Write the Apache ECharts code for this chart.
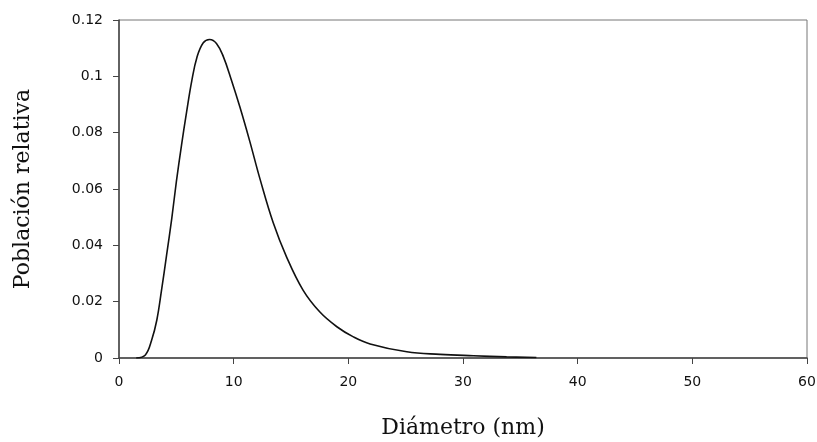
<!DOCTYPE html>
<html>
<head>
<meta charset="utf-8">
<script src="https://cdn.jsdelivr.net/npm/echarts@6/dist/echarts.min.js"></script>
<style>
  html, body { margin: 0; padding: 0; background: #fff; }
  #chart { width: 817px; height: 442px; }
</style>
</head>
<body>
<div id="chart"></div>
<script>
// Particle size distribution: diameter (nm) vs relative population
const diameters = [1.5, 2.3, 2.85, 3.3, 3.7, 4.15, 4.6, 5.0, 5.45, 5.9, 6.35, 6.8, 7.35, 7.9, 8.5, 9.1, 9.8, 10.55, 11.4, 12.3, 13.45, 14.6, 16.05, 17.5, 19.0, 20.4, 21.9, 25.1, 28.0, 30.9, 33.8, 36.4];
const population = [0, 0.0011, 0.0064, 0.0135, 0.0238, 0.0365, 0.0495, 0.0625, 0.0755, 0.0875, 0.0985, 0.1068, 0.1119, 0.1131, 0.1117, 0.1070, 0.0987, 0.0890, 0.0770, 0.0635, 0.0480, 0.0360, 0.0241, 0.0164, 0.0111, 0.0076, 0.0050, 0.0022, 0.0013, 0.0008, 0.0004, 0.0002];
const xTicks = [0, 10, 20, 30, 40, 50, 60];
const yTicks = [0, 0.02, 0.04, 0.06, 0.08, 0.1, 0.12];

const points = diameters.map((d, i) => [d, population[i]]);

const chart = echarts.init(document.getElementById('chart'), null, { renderer: 'canvas' });
const tickFont = { fontFamily: 'DejaVu Sans, sans-serif', fontSize: 14, color: '#111' };
const titleFont = { fontFamily: 'DejaVu Serif, serif', fontSize: 22, color: '#111' };

chart.setOption({
  animation: false,
  backgroundColor: '#fff',
  grid: {
    left: 119, right: 10, top: 20, bottom: 84,
    outerBoundsMode: 'none', containLabel: false,
    show: true, borderColor: '#777', borderWidth: 1
  },
  xAxis: {
    type: 'value',
    min: xTicks[0], max: xTicks[xTicks.length - 1], interval: 10,
    name: 'Diámetro (nm)', nameLocation: 'middle', nameGap: 59,
    nameTextStyle: titleFont,
    axisLine: { show: true, onZero: false, lineStyle: { color: '#444', width: 1.5 } },
    axisTick: { show: true, inside: false, length: 6, lineStyle: { color: '#444' } },
    axisLabel: Object.assign({ margin: 17, formatter: v => String(v) }, tickFont),
    splitLine: { show: false }
  },
  yAxis: {
    type: 'value',
    min: yTicks[0], max: yTicks[yTicks.length - 1], interval: 0.02,
    name: 'Población relativa', nameLocation: 'middle', nameGap: 85,
    nameTextStyle: titleFont,
    axisLine: { show: true, lineStyle: { color: '#444', width: 1.5 } },
    axisTick: { show: true, inside: false, length: 6, lineStyle: { color: '#444' } },
    axisLabel: Object.assign({ margin: 16, formatter: v => String(+v.toFixed(2)) }, tickFont),
    splitLine: { show: false }
  },
  series: [{
    type: 'line',
    data: points,
    smooth: 0.4,
    symbol: 'none',
    lineStyle: { color: '#111', width: 1.6 }
  }]
});
</script>
</body>
</html>
